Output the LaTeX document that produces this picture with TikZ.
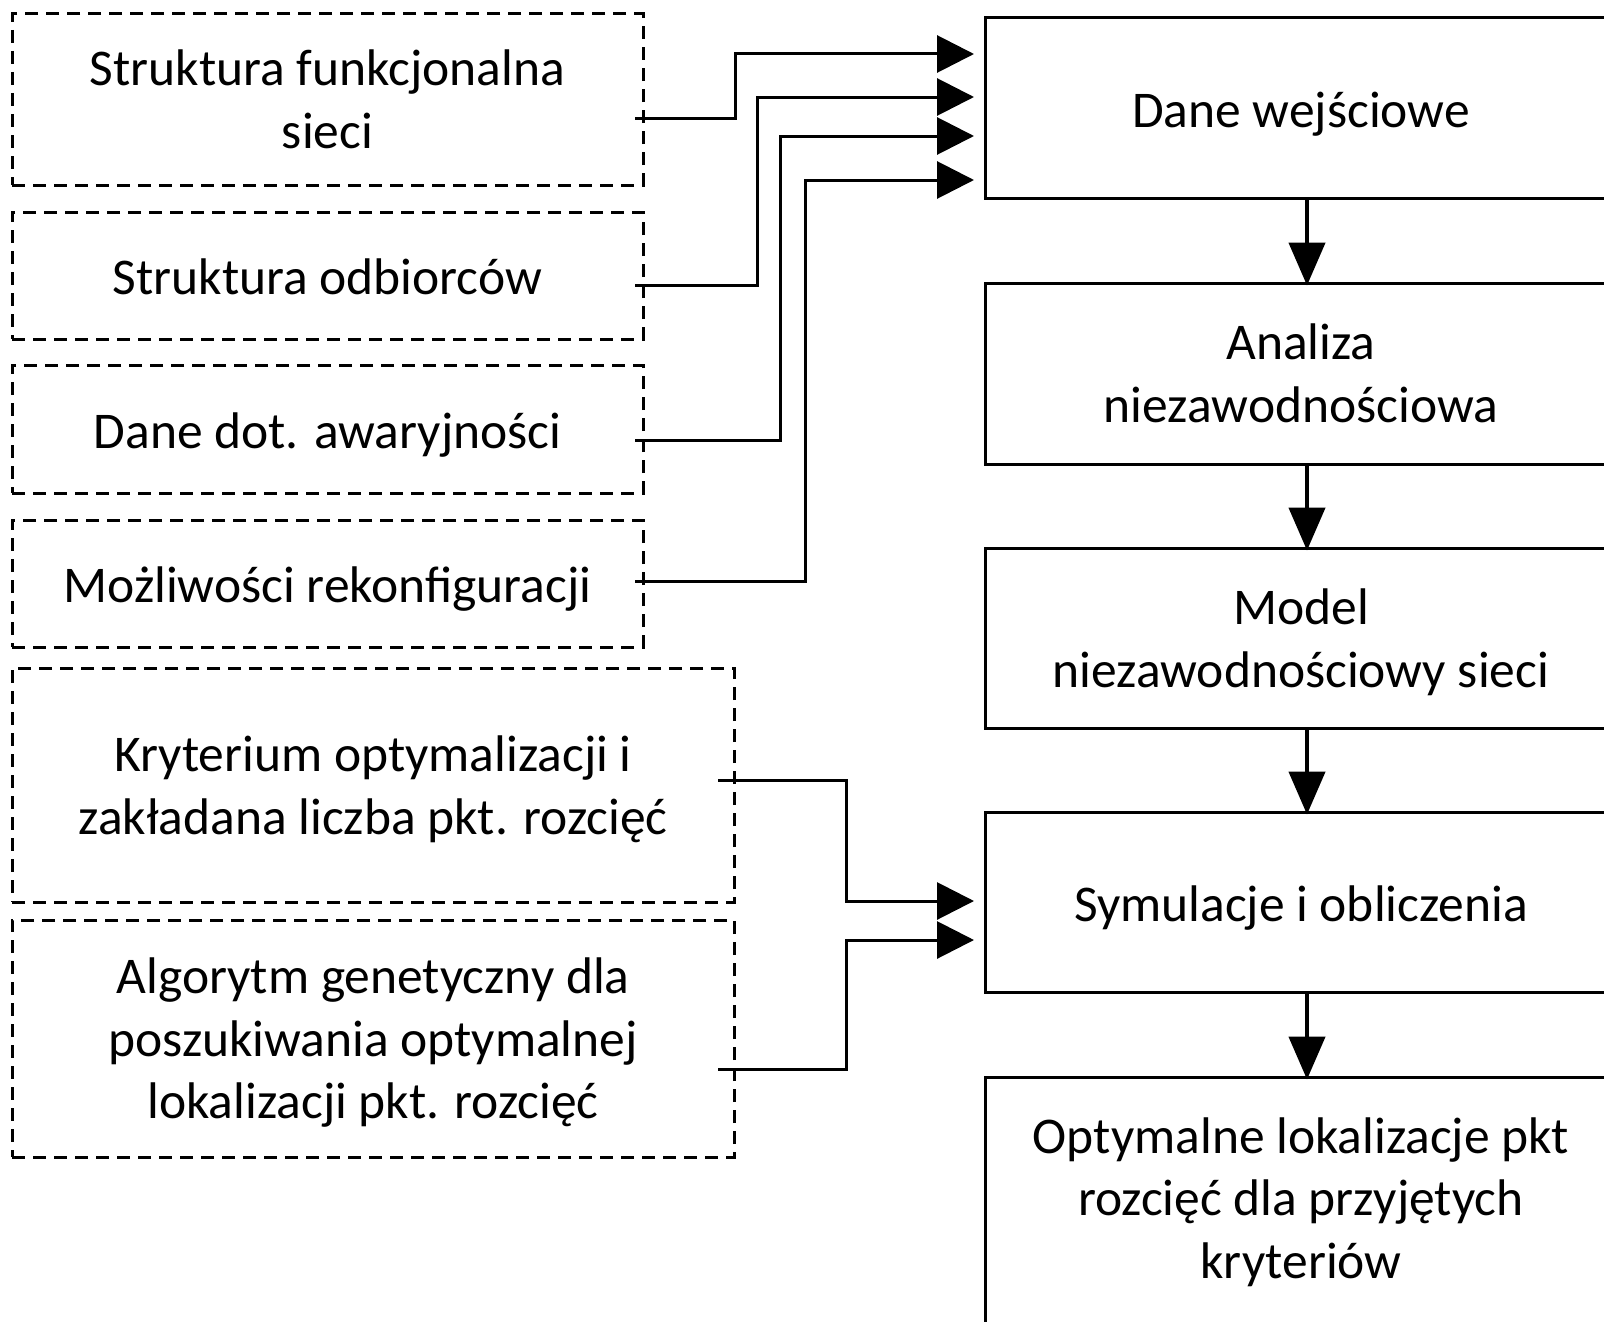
\documentclass[tikz,border=0pt]{standalone}
\usepackage{fontspec}
\setmainfont{Carlito}
\usetikzlibrary{arrows.meta}
\begin{document}
\begin{tikzpicture}[x=1pt,y=-1pt]
\tikzset{
 txt/.style={font=\fontsize{51.5}{62.5}\selectfont},
 oneline/.style={text height=38pt, text depth=0pt},
 nodepth/.style={text depth=0pt},
 inbox/.style={draw, dash pattern=on 13pt off 8pt, line width=3pt, rectangle, inner sep=0pt, align=center, txt},
 procbox/.style={draw, line width=3pt, rectangle, inner sep=0pt, align=center, minimum width=632pt, txt},
 feed/.style={line width=3pt, -{Triangle[length=37pt,width=37pt]}},
 flow/.style={line width=4.5pt, shorten >=-4pt, -{Triangle[length=43pt,width=36pt]}}
}
\useasboundingbox (0,0) rectangle (1604,1322);
\clip (0,0) rectangle (1604,1322);
\fill[white] (0,0) rectangle (1604,1322);
% left input boxes
\node[inbox, minimum width=631pt, minimum height=171pt] (B1) at (327.5,99.5) {Struktura funkcjonalna\\sieci};
\node[inbox, oneline, minimum width=631pt, minimum height=127pt] (B2) at (327.5,275.5) {Struktura odbiorców};
\node[inbox, oneline, minimum width=631pt, minimum height=128pt] (B3) at (327.5,429) {Dane dot. awaryjności};
\node[inbox, oneline, minimum width=631pt, minimum height=127pt] (B4) at (327.5,583.5) {Możliwości rekonfiguracji};
\node[inbox, nodepth, minimum width=722pt, minimum height=234pt] (B5) at (373,785) {Kryterium optymalizacji i\\zakładana liczba pkt. rozcięć};
\node[inbox, nodepth, minimum width=722pt, minimum height=237pt] (B6) at (373,1038.5) {Algorytm genetyczny dla\\poszukiwania optymalnej\\lokalizacji pkt. rozcięć};
% right process boxes
\node[procbox, oneline, minimum height=180pt] (R1) at (1301,108) {Dane wejściowe};
\node[procbox, minimum height=181pt] (R2) at (1301,373.5) {Analiza\\niezawodnościowa};
\node[procbox, nodepth, minimum height=180pt] (R3) at (1301,638) {Model\\niezawodnościowy sieci};
\node[procbox, oneline, minimum height=180pt] (R4) at (1301,902) {Symulacje i obliczenia};
\node[procbox, minimum height=250pt] (R5) at (1301,1202) {Optymalne lokalizacje pkt\\rozcięć dla przyjętych\\kryteriów};
% connector end points
\coordinate (s1) at (635,118);
\coordinate (s2) at (635,285);
\coordinate (s3) at (635,440);
\coordinate (s4) at (635,581);
\coordinate (s5) at (718,780);
\coordinate (s6) at (718,1069);
\coordinate (e1) at (974,54);
\coordinate (e2) at (974,97);
\coordinate (e3) at (974,136);
\coordinate (e4) at (974,180);
\coordinate (e5) at (974,901);
\coordinate (e6) at (974,940);
\draw[feed] (s1) -| (735,54) -- (e1);
\draw[feed] (s2) -| (757,97) -- (e2);
\draw[feed] (s3) -| (780,136) -- (e3);
\draw[feed] (s4) -| (805,180) -- (e4);
\draw[feed] (s5) -| (846,901) -- (e5);
\draw[feed] (s6) -| (846,940) -- (e6);
% main flow
\draw[flow] ([xshift=6pt]R1.south) -- ([xshift=6pt]R2.north);
\draw[flow] ([xshift=6pt]R2.south) -- ([xshift=6pt]R3.north);
\draw[flow] ([xshift=6pt]R3.south) -- ([xshift=6pt]R4.north);
\draw[flow] ([xshift=6pt]R4.south) -- ([xshift=6pt]R5.north);
\end{tikzpicture}
\end{document}
